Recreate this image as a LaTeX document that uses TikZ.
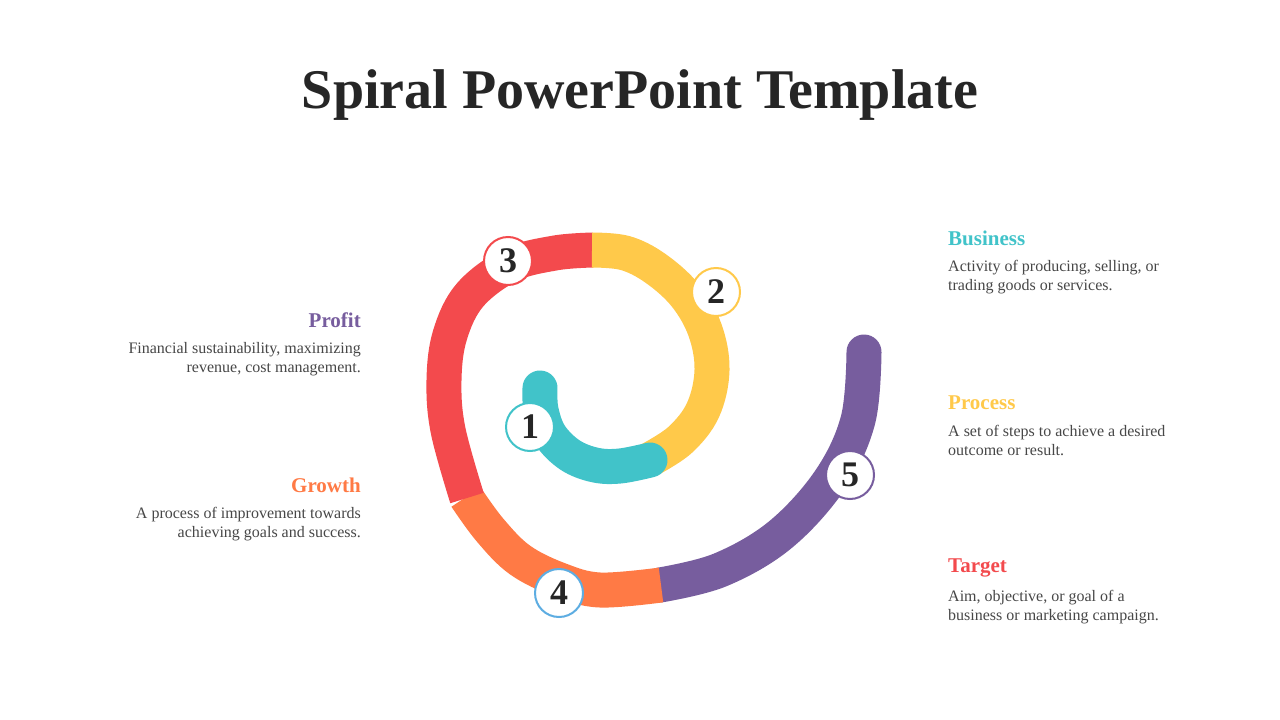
\documentclass[tikz,border=0pt]{standalone}
\usepackage{fontspec}
\setmainfont{Liberation Serif}
\begin{document}
\begin{tikzpicture}[x=1pt,y=-1pt,
  band/.style={line width=35pt},
  num/.style={circle,draw=#1,line width=2pt,fill=white,minimum size=48pt,inner sep=0pt,font=\fontsize{36}{36}\selectfont\bfseries,text=black!85},
  head/.style={font=\fontsize{21}{24}\selectfont\bfseries,text=#1,inner sep=0pt},
  desc/.style={font=\fontsize{16}{19}\selectfont,text=black!72,inner sep=0pt,align=#1}]
\definecolor{cteal}{HTML}{41C3C9}
\definecolor{cyel}{HTML}{FFC94A}
\definecolor{cred}{HTML}{F34A4D}
\definecolor{cora}{HTML}{FF7A45}
\definecolor{cpur}{HTML}{775D9E}
\definecolor{cblu}{HTML}{5DADE2}
\useasboundingbox (0,0) rectangle (1280,720);
\fill[white] (0,0) rectangle (1280,720);
\node[font=\fontsize{56}{60}\selectfont\bfseries,text=black!85] (title) at (640,95) {Spiral PowerPoint Template};
% spiral
\draw[band,cpur,line cap=round] plot[smooth,tension=0.6] coordinates {(660,585) (720,570) (780,535) (830,480) (858,420) (864,352)};
\draw[band,cora] plot[smooth,tension=0.6] coordinates {(466,497) (490,530) (520,560) (560,580) (600,590) (661,585)};
\draw[band,cred] plot[smooth,tension=0.6] coordinates {(593,250) (555,253) (510,265) (470,295) (450,335) (444,380) (448,430) (467,498)};
\draw[band,cyel] plot[smooth,tension=0.6] coordinates {(649,460) (680,440) (703,410) (712,370) (705,330) (685,295) (655,268) (625,253) (592,250)};
\draw[band,cteal,line cap=round] plot[smooth,tension=0.6] coordinates {(540,388) (541,410) (550,435) (570,455) (595,465) (620,466) (650,460)};
\node[num=cteal] (n1) at (530,427) {1};
\node[num=cyel] (n2) at (716,292) {2};
\node[num=cred] (n3) at (508,261) {3};
\node[num=cblu] (n4) at (559,593) {4};
\node[num=cpur] (n5) at (850,475) {5};
% right texts
\node[head=cteal,anchor=west] (h1) at (948,238) {Business};
\node[desc=left,anchor=north west] (d1) at (948,260) {Activity of producing, selling, or\\trading goods or services.};
\node[head=cyel,anchor=west] (h2) at (948,403) {Process};
\node[desc=left,anchor=north west] (d2) at (948,425) {A set of steps to achieve a desired\\outcome or result.};
\node[head=cred,anchor=west] (h3) at (948,568) {Target};
\node[desc=left,anchor=north west] (d3) at (948,590) {Aim, objective, or goal of a\\business or marketing campaign.};
% left texts
\node[head=cpur,anchor=east] (h4) at (361,320) {Profit};
\node[desc=right,anchor=north east] (d4) at (361,342) {Financial sustainability, maximizing\\revenue, cost management.};
\node[head=cora,anchor=east] (h5) at (361,485) {Growth};
\node[desc=right,anchor=north east] (d5) at (361,507) {A process of improvement towards\\achieving goals and success.};
\end{tikzpicture}
\end{document}
